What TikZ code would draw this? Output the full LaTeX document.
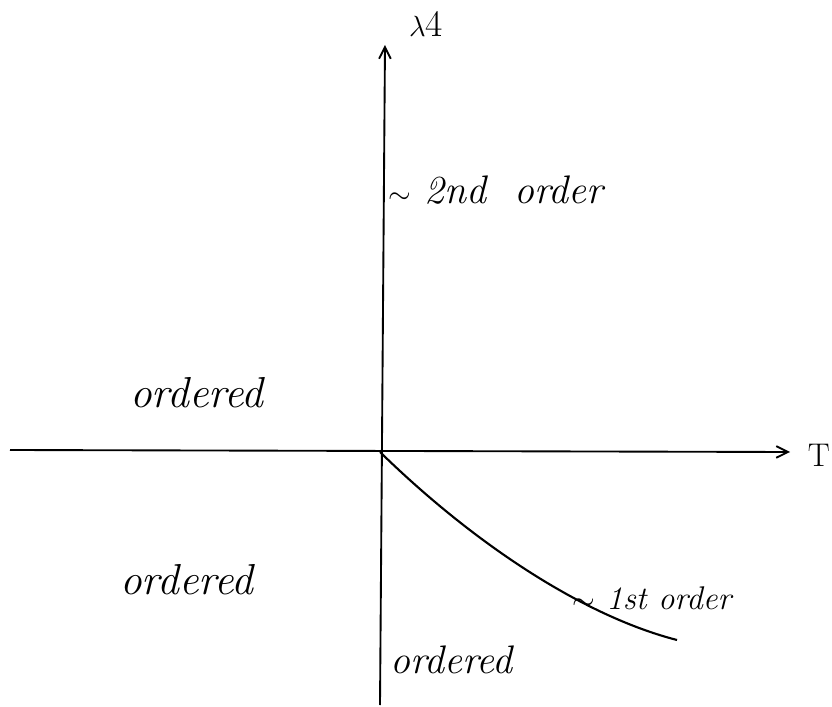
\documentclass[tikz,border=0pt]{standalone}
\usetikzlibrary{arrows.meta}
\begin{document}
\begin{tikzpicture}[x=0.03cm,y=-0.03cm,
  axis/.style={line width=1.6pt,-{Straight Barb[length=10pt,width=10pt,line width=1.6pt]}},
  hand/.style={font=\itshape\fontsize{37}{42}\selectfont, inner sep=0pt},
  lab/.style={font=\fontsize{28}{32}\selectfont, inner sep=0pt}]
\useasboundingbox (0,0) rectangle (832,707);
\coordinate (xs) at (10,450);
\coordinate (xe) at (790,452);
\coordinate (ys) at (380,705);
\coordinate (ye) at (385,45);
\coordinate (o) at (380,452);
\coordinate (ce) at (677,640);
\draw[axis] (xs) -- (xe);
\draw[axis] (ys) -- (ye);
\node[lab,anchor=east] (T) at (830,455) {T};
\node[lab,font=\fontsize{32}{36}\selectfont] (lam) at (426,24) {$\lambda$4};
\draw[line width=1.8pt] (o) .. controls (470,540) and (580,615) .. (ce);
\node[hand,anchor=west,font=\itshape\fontsize{34}{40}\selectfont] (n2) at (388,190) {$\sim$ 2nd\ \ order};
\node[hand,anchor=west] (o1) at (130,393) {ordered};
\node[hand,anchor=west] (o2) at (120,580) {ordered};
\node[hand,anchor=west,font=\itshape\fontsize{28}{32}\selectfont] (n1) at (572,598) {$\sim$ 1st order};
\node[hand,anchor=west,font=\itshape\fontsize{34}{40}\selectfont] (o3) at (390,660) {ordered};
\end{tikzpicture}
\end{document}
